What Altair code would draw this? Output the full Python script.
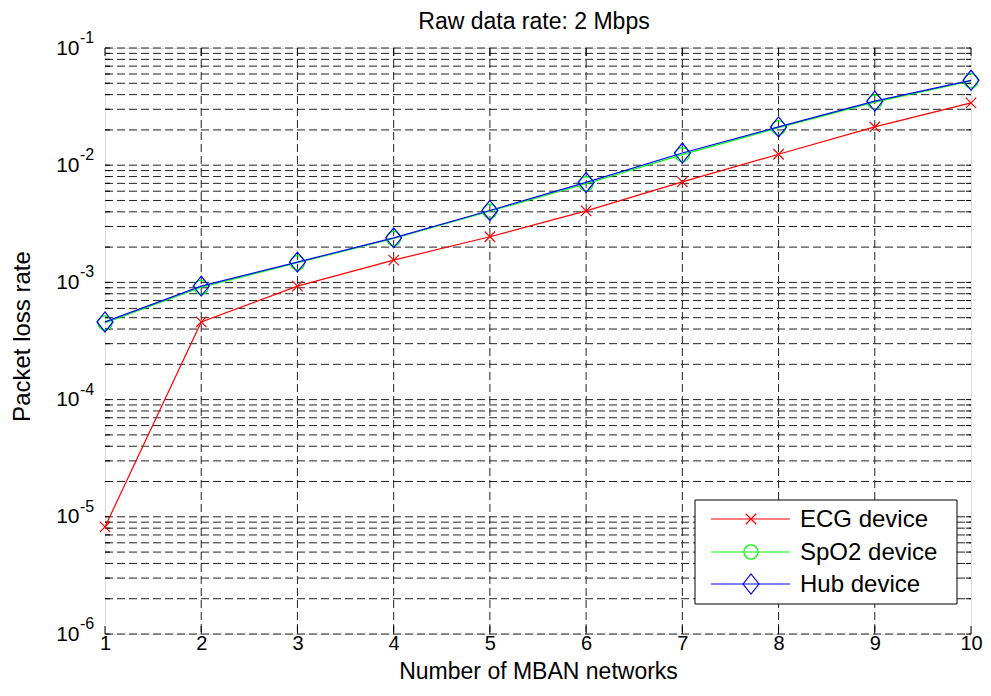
import altair as alt
import pandas as pd

# ---- data ----
networks = [1, 2, 3, 4, 5, 6, 7, 8, 9, 10]
ecg = [8.2e-6, 4.6e-4, 9.3e-4, 1.55e-3, 2.45e-3, 4.08e-3, 7.2e-3, 1.24e-2, 2.12e-2, 3.4e-2]
spo2 = [4.5e-4, 9.1e-4, 1.47e-3, 2.37e-3, 4.05e-3, 6.95e-3, 1.23e-2, 2.09e-2, 3.45e-2, 5.25e-2]
hub = [4.6e-4, 9.3e-4, 1.49e-3, 2.4e-3, 4.11e-3, 7.13e-3, 1.27e-2, 2.12e-2, 3.52e-2, 5.3e-2]
series_names = ["ECG device", "SpO2 device", "Hub device"]
series_colors = ["#ff0000", "#00ff00", "#0000ff"]
exponents = [-6, -5, -4, -3, -2, -1]
x_ticks = [1, 2, 3, 4, 5, 6, 7, 8, 9, 10]
x_grid = [2, 3, 4, 5, 6, 7, 8, 9]
minor_mult = [1, 2, 3, 4, 5, 6, 7, 8, 9]

W, H = 866, 586
FONT = "Liberation Sans"

CROSS = "M-1,-1L1,1M-1,1L1,-1"
DIAMOND = "M-0.8,0L0,-1L0.8,0L0,1Z"

rows = []
for n, e, s, h in zip(networks, ecg, spo2, hub):
    rows.append({"n": n, "v": e, "s": series_names[0]})
    rows.append({"n": n, "v": s, "s": series_names[1]})
    rows.append({"n": n, "v": h, "s": series_names[2]})
df = pd.DataFrame(rows)

y_grid_vals = [m * 10.0 ** k for k in range(-6, -1) for m in minor_mult] + [1e-1]
ygrid = pd.DataFrame({"v": y_grid_vals})
xgrid = pd.DataFrame({"n": x_grid})
xtick_df = pd.DataFrame({"n": x_ticks})
exp_df = pd.DataFrame({"v": [10.0 ** k for k in exponents], "t": [str(k) for k in exponents]})

xs = alt.Scale(domain=[1, 10], nice=False, zero=False)
ys = alt.Scale(type="log", domain=[1e-6, 1e-1], nice=False)

X = alt.X("n:Q", scale=xs, axis=alt.Axis(
    values=x_ticks, format="d", grid=False, domain=False, ticks=False,
    labelFlush=False, labelOverlap=False,
    labelFont=FONT, labelFontSize=20, labelColor="black", labelPadding=-1,
    title="Number of MBAN networks", titleFont=FONT, titleFontSize=23,
    titleFontWeight="normal", titleColor="black", titlePadding=7))
Y = alt.Y("v:Q", scale=ys, axis=alt.Axis(
    values=[10.0 ** k for k in exponents], labelExpr="'10'", grid=False,
    domain=False, ticks=False, labelFont=FONT, labelFontSize=21,
    labelFlush=False, labelOverlap=False,
    labelColor="black", labelPadding=26, labelBaseline="middle",
    title="Packet loss rate", titleFont=FONT, titleFontSize=24,
    titleFontWeight="normal", titleColor="black", titleX=-83, titleY=H / 2 - 5,
    titleAlign="center", titleBaseline="middle", titleAngle=-90))

dash = [8, 4]
hgrid = alt.Chart(ygrid).mark_rule(color="#222222", strokeWidth=1, strokeDash=dash).encode(
    y=alt.Y("v:Q", scale=ys), x=alt.value(0), x2=alt.value(W))
vgrid = alt.Chart(xgrid).mark_rule(color="#222222", strokeWidth=1, strokeDash=dash).encode(
    x=alt.X("n:Q", scale=xs), y=alt.value(0), y2=alt.value(H))

# inward tick marks on all four sides
lt = alt.Chart(ygrid).mark_rule(color="black").encode(
    y=alt.Y("v:Q", scale=ys), x=alt.value(0), x2=alt.value(5))
rt = alt.Chart(ygrid).mark_rule(color="black").encode(
    y=alt.Y("v:Q", scale=ys), x=alt.value(W - 5), x2=alt.value(W))
bt = alt.Chart(xtick_df).mark_rule(color="black").encode(
    x=alt.X("n:Q", scale=xs), y=alt.value(H - 8), y2=alt.value(H))
tt = alt.Chart(xtick_df).mark_rule(color="black").encode(
    x=alt.X("n:Q", scale=xs), y=alt.value(0), y2=alt.value(8))

color_scale = alt.Scale(domain=series_names, range=series_colors)

lines = alt.Chart(df).mark_line(strokeWidth=1.2).encode(
    x=X, y=Y, color=alt.Color("s:N", scale=color_scale, legend=None),
    order=alt.Order("n:Q"))

pts_ecg = alt.Chart(df[df.s == series_names[0]]).mark_point(
    shape=CROSS, size=110, color="#ff0000", strokeWidth=1.2, filled=False, opacity=1
).encode(x=alt.X("n:Q", scale=xs), y=alt.Y("v:Q", scale=ys))
pts_spo2 = alt.Chart(df[df.s == series_names[1]]).mark_point(
    shape="circle", size=200, color="#00ff00", strokeWidth=1.2, filled=False, opacity=1
).encode(x=alt.X("n:Q", scale=xs), y=alt.Y("v:Q", scale=ys))
pts_hub = alt.Chart(df[df.s == series_names[2]]).mark_point(
    shape=DIAMOND, size=400, color="#0000ff", strokeWidth=1.2, filled=False, opacity=1
).encode(x=alt.X("n:Q", scale=xs), y=alt.Y("v:Q", scale=ys))

exp_text = alt.Chart(exp_df).mark_text(
    align="left", baseline="middle", font=FONT, fontSize=16, dy=-10, color="black"
).encode(y=alt.Y("v:Q", scale=ys), x=alt.value(-25), text="t:N")

# ---- legend (drawn manually) ----
one = alt.Data(values=[{}])
LX0, LX1 = 590, 852
LY0, LY1 = 452, 556
legend_box = alt.Chart(one).mark_rect(fill="white", stroke="black", strokeWidth=1).encode(
    x=alt.value(LX0), x2=alt.value(LX1), y=alt.value(LY0), y2=alt.value(LY1))
legend_layers = [legend_box]
row_y = [471, 504, 536]
shapes = [(CROSS, 110), ("circle", 200), (DIAMOND, 400)]
for name, col, ry, (shp, sz) in zip(series_names, series_colors, row_y, shapes):
    legend_layers.append(alt.Chart(one).mark_rule(color=col, strokeWidth=1.2).encode(
        x=alt.value(606), x2=alt.value(685), y=alt.value(ry)))
    legend_layers.append(alt.Chart(one).mark_point(
        shape=shp, size=sz, color=col, strokeWidth=1.2, filled=False, opacity=1).encode(
        x=alt.value(646), y=alt.value(ry)))
    legend_layers.append(alt.Chart(one).mark_text(
        align="left", baseline="middle", font=FONT, fontSize=24, color="black", text=name
    ).encode(x=alt.value(695), y=alt.value(ry + 1)))

chart = alt.layer(
    hgrid, vgrid, lt, rt, bt, tt, lines, pts_spo2, pts_hub, pts_ecg, exp_text,
    *legend_layers
).properties(
    width=W, height=H,
    title=alt.TitleParams("Raw data rate: 2 Mbps", font=FONT, fontSize=23,
                          fontWeight="normal", color="black", anchor="middle", offset=-4,
                          dx=-4),
    autosize=alt.AutoSizeParams(type="none"),
    padding={"left": 97, "top": 40, "right": 12, "bottom": 50},
).configure_view(stroke="black", strokeWidth=1.5).configure(background="white")

chart.save("out.html", embed_options={"renderer": "svg", "actions": False})
